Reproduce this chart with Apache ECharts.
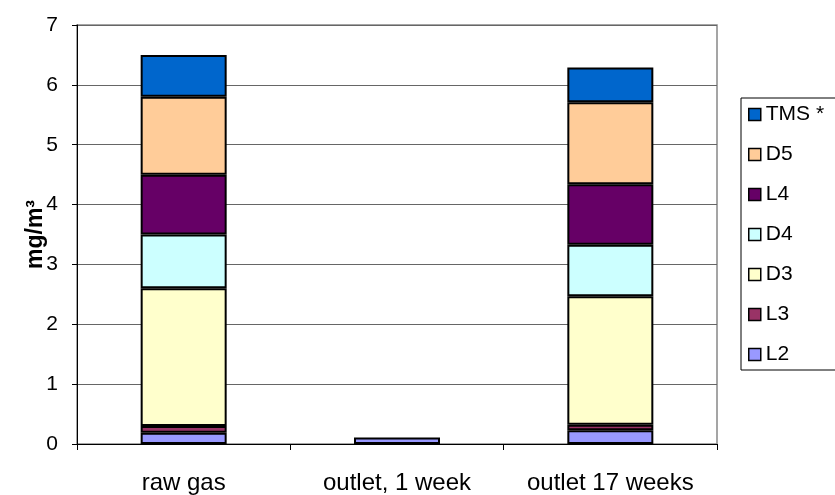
<!DOCTYPE html>
<html>
<head>
<meta charset="utf-8">
<script src="https://cdn.jsdelivr.net/npm/echarts@6/dist/echarts.min.js"></script>
<style>
  html, body { margin: 0; padding: 0; background: #fff; }
  #chart { width: 835px; height: 495px; }
</style>
</head>
<body>
<div id="chart"></div>
<script>
// Siloxane concentrations per sampling point (mg/m³)
const categories = ['raw gas', 'outlet, 1 week', 'outlet 17 weeks'];
const L2  = [0.19, 0.11, 0.23];
const L3  = [0.11, null, 0.09];
const D3  = [2.30, null, 2.15];
const D4  = [0.90, null, 0.86];
const L4  = [1.00, null, 1.01];
const D5  = [1.30, null, 1.37];
const TMS = [0.70, null, 0.58];

const yTicks = { min: 0, max: 7, interval: 1 };

const seriesDefs = [
  { name: 'L2',    data: L2,  color: '#9999FF' },
  { name: 'L3',    data: L3,  color: '#993366' },
  { name: 'D3',    data: D3,  color: '#FFFFCC' },
  { name: 'D4',    data: D4,  color: '#CCFFFF' },
  { name: 'L4',    data: L4,  color: '#660066' },
  { name: 'D5',    data: D5,  color: '#FFCC99' },
  { name: 'TMS *', data: TMS, color: '#0066CC' }
];

const font = 'Liberation Sans, Arial, sans-serif';
const chart = echarts.init(document.getElementById('chart'), null, { renderer: 'canvas' });

chart.setOption({
  animation: false,
  backgroundColor: '#fff',
  grid: {
    left: 77, right: 118, top: 25, bottom: 50,
    show: true, borderColor: '#888', borderWidth: 1.5, backgroundColor: 'transparent'
  },
  legend: {
    orient: 'vertical',
    left: 743, top: 99,
    itemWidth: 12, itemHeight: 12, itemGap: 19,
    icon: 'rect',
    data: seriesDefs.map(s => s.name).reverse(),
    textStyle: { fontFamily: font, fontSize: 21, color: '#000', padding: [0, 0, 0, 0] },
    itemStyle: { borderColor: '#000', borderWidth: 1.5 }
  },
  graphic: [{
    type: 'rect',
    shape: { x: 741, y: 98, width: 120, height: 272 },
    style: { fill: 'none', stroke: '#000', lineWidth: 1 },
    z: -1
  }],
  xAxis: {
    type: 'category',
    data: categories,
    axisLine: { lineStyle: { color: '#000', width: 1 } },
    axisTick: { show: true, length: 6, lineStyle: { color: '#000' } },
    axisLabel: { fontFamily: font, fontSize: 24, color: '#000', margin: 27, interval: 0, hideOverlap: false }
  },
  yAxis: {
    type: 'value',
    min: yTicks.min, max: yTicks.max, interval: yTicks.interval,
    name: 'mg/m³',
    nameLocation: 'middle',
    nameGap: 30,
    nameMoveOverlap: false,
    nameRotate: 90,
    nameTextStyle: { fontFamily: font, fontSize: 23, fontWeight: 'bold', color: '#000' },
    axisLine: { show: true, lineStyle: { color: '#000', width: 1 } },
    axisTick: { show: true, length: 5, lineStyle: { color: '#000' } },
    axisLabel: { fontFamily: font, fontSize: 21, color: '#000', margin: 19 },
    splitLine: { show: true, lineStyle: { color: '#666', width: 1 } }
  },
  series: seriesDefs.map(s => ({
    name: s.name,
    type: 'bar',
    stack: 'total',
    data: s.data,
    barWidth: 86,
    itemStyle: { color: s.color, borderColor: '#000', borderWidth: 2 }
  }))
});
</script>
</body>
</html>
